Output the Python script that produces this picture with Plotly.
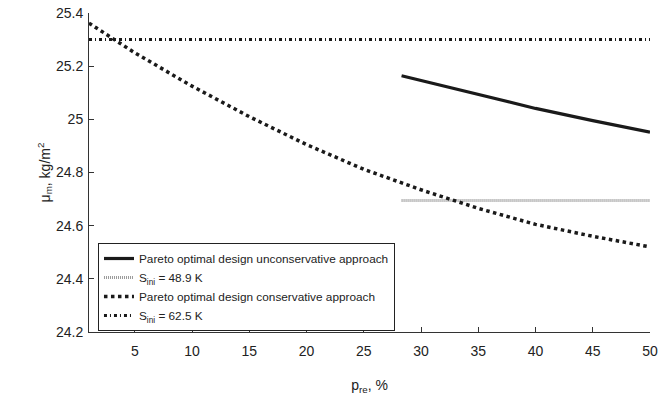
import plotly.graph_objects as go

# Pareto fronts: relative probability p_re (%) vs. mass per unit area (kg/m^2)
p_uncons = [28.3, 30, 35, 40, 45, 50]
mu_uncons = [25.164, 25.146, 25.092, 25.041, 24.995, 24.952]

p_cons = [1, 5, 10, 15, 20, 25, 30, 35, 40, 45, 50]
mu_cons = [25.362, 25.25, 25.125, 25.01, 24.905, 24.812, 24.735, 24.665, 24.605, 24.56, 24.52]

# Reference designs with initial-state values
p_s489 = [28.3, 50]
mu_s489 = [24.695, 24.695]

p_s625 = [1, 50]
mu_s625 = [25.3, 25.3]

x_ticks = [5, 10, 15, 20, 25, 30, 35, 40, 45, 50]
y_ticks = [24.2, 24.4, 24.6, 24.8, 25.0, 25.2, 25.4]
y_tick_text = ["24.2", "24.4", "24.6", "24.8", "25", "25.2", "25.4"]

FONT = "Liberation Sans, Arial, sans-serif"
TXT = "#222"

fig = go.Figure()
fig.add_trace(go.Scatter(
    x=p_uncons, y=mu_uncons, mode="lines",
    name="Pareto optimal design unconservative approach",
    line=dict(color="#1a1a1a", width=3.2),
))
fig.add_trace(go.Scatter(
    x=p_s489, y=mu_s489, mode="lines",
    name="S<sub>ini</sub> = 48.9 K",
    line=dict(color="#9a9a9a", width=3, dash="1px,1px"),
))
fig.add_trace(go.Scatter(
    x=p_cons, y=mu_cons, mode="lines",
    name="Pareto optimal design conservative approach",
    line=dict(color="#1a1a1a", width=3.5, dash="3.5px,3.5px"),
))
fig.add_trace(go.Scatter(
    x=p_s625, y=mu_s625, mode="lines",
    name="S<sub>ini</sub> = 62.5 K",
    line=dict(color="#1a1a1a", width=3, dash="3px,3px,1px,3px"),
))

fig.update_layout(
    width=659, height=397,
    margin=dict(l=89, r=9, t=13, b=65),
    paper_bgcolor="white", plot_bgcolor="white",
    font=dict(family=FONT, size=14, color=TXT),
    showlegend=True,
    legend=dict(
        x=0.016, y=0.279, xanchor="left", yanchor="top",
        bordercolor=TXT, borderwidth=1, bgcolor="white",
        font=dict(family=FONT, size=11.8, color=TXT),
        itemwidth=30, tracegroupgap=0,
    ),
    xaxis=dict(
        range=[1, 50], tickvals=x_ticks, ticks="inside", ticklen=5,
        tickcolor="#333", showline=True, linecolor="#333", linewidth=1,
        showgrid=False, zeroline=False, mirror=False, automargin=False,
        tickfont=dict(family=FONT, size=14, color=TXT),
        ticklabelstandoff=6,
        title=dict(text="p<sub>re</sub>, %", font=dict(family=FONT, size=14, color=TXT), standoff=22),
    ),
    yaxis=dict(
        range=[24.2, 25.4], tickvals=y_ticks, ticktext=y_tick_text,
        ticks="inside", ticklen=5, tickcolor="#333",
        showline=True, linecolor="#333", linewidth=1,
        showgrid=False, zeroline=False, mirror=False, automargin=False,
        tickfont=dict(family=FONT, size=14, color=TXT),
        ticklabelstandoff=2,
        title=dict(text="μ<sub>m</sub>, kg/m<sup>2</sup>", font=dict(family=FONT, size=14, color=TXT), standoff=2),
    ),
)

fig.write_html("out.html")
